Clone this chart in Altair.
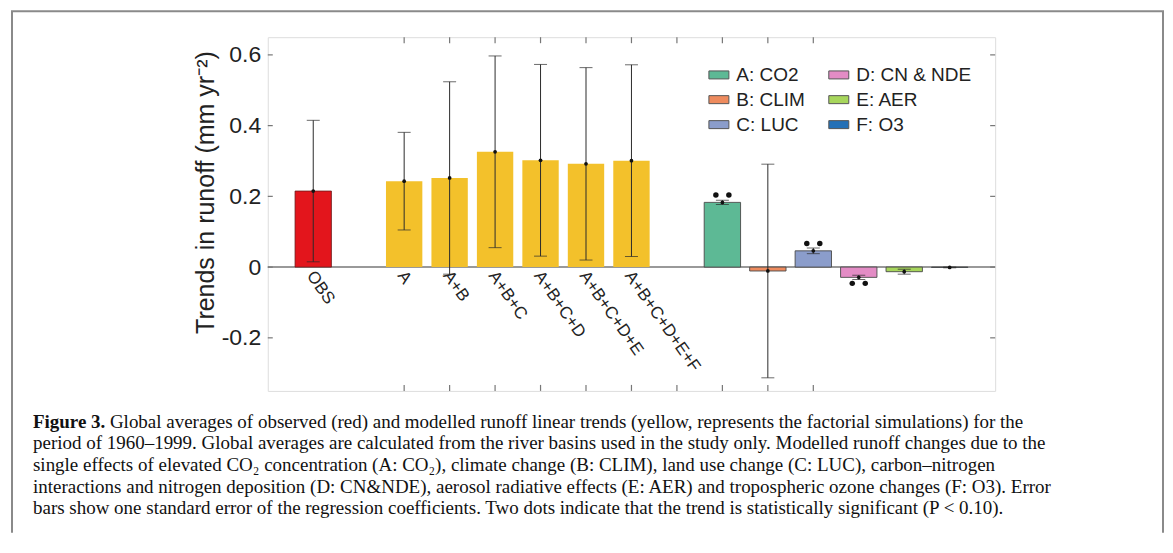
import altair as alt
import pandas as pd

# ---------------- data ----------------
sim_labels = ["OBS", "A", "A+B", "A+B+C", "A+B+C+D", "A+B+C+D+E", "A+B+C+D+E+F"]
sim_pos = [1, 3, 4, 5, 6, 7, 8]
sim_values = [0.215, 0.243, 0.252, 0.326, 0.302, 0.292, 0.301]
sim_errors = [0.200, 0.138, 0.272, 0.271, 0.271, 0.272, 0.271]

factor_names = ["A: CO2", "B: CLIM", "C: LUC", "D: CN & NDE", "E: AER", "F: O3"]
factor_pos = [10, 11, 12, 13, 14, 15]
factor_values = [0.183, -0.011, 0.046, -0.029, -0.013, -0.001]
factor_errors = [0.006, 0.302, 0.008, 0.006, 0.007, 0.001]

sig_names = ["A: CO2", "C: LUC", "D: CN & NDE"]
sig_pos = [10, 12, 13]
sig_dot_values = [0.204, 0.067, -0.046]

y_tick_values = [-0.2, 0, 0.2, 0.4, 0.6]
x_tick_values = [3, 4, 5, 6, 7, 8, 9, 10, 11, 12]

caption_bold = "Figure 3."
caption_first = "Global averages of observed (red) and modelled runoff linear trends (yellow, represents the factorial simulations) for the"
caption_rest = [
    "period of 1960\u20131999. Global averages are calculated from the river basins used in the study only. Modelled runoff changes due to the",
    "single effects of elevated CO\u2082 concentration (A: CO\u2082), climate change (B: CLIM), land use change (C: LUC), carbon\u2013nitrogen",
    "interactions and nitrogen deposition (D: CN&NDE), aerosol radiative effects (E: AER) and tropospheric ozone changes (F: O3). Error",
    "bars show one standard error of the regression coefficients. Two dots indicate that the trend is statistically significant (P < 0.10).",
]

# ---------------- styles ----------------
RED = "#E3151C"
YELLOW = "#F3C12B"
legend_colors = ["#5DB995", "#EE8B5E", "#8B9DCB", "#E38CC5", "#A7D65C", "#2470B6"]
SANS = "Liberation Sans, Arial, Helvetica, sans-serif"
SERIF = "Liberation Serif, Times New Roman, serif"
W, H = 728, 354
CAP_FS = 19

sim_df = pd.DataFrame({"label": sim_labels, "pos": sim_pos, "value": sim_values, "err": sim_errors})
fac_df = pd.DataFrame({"name": factor_names, "pos": factor_pos, "value": factor_values, "err": factor_errors})
sig_df = pd.DataFrame({"name": sig_names, "pos": sig_pos, "dot": sig_dot_values})
yt_df = pd.DataFrame({"v": y_tick_values})
xt_df = pd.DataFrame({"v": x_tick_values})
one = pd.DataFrame({"k": [0]})

xs = alt.Scale(domain=[0, 16], nice=False, zero=False)
ys = alt.Scale(domain=[-0.35, 0.65], nice=False, zero=False)

yaxis = alt.Axis(
    values=y_tick_values, ticks=False, domain=False, grid=False,
    labelFont=SANS, labelFontSize=23, labelColor="#222", labelPadding=7,
    labelExpr="datum.value == 0 ? '0' : (datum.value < 0 ? '-' + format(-datum.value, '.1f') : format(datum.value, '.1f'))",
    title="Trends in runoff (mm yr\u207b\u00b2)", titleFont=SANS, titleFontSize=25,
    titleFontWeight="normal", titleColor="#222", titleAngle=270,
    titleX=-62, titleY=155, titleAlign="center", titleBaseline="middle",
)

def X(field):
    return alt.X(field, type="quantitative", scale=xs, axis=None)

def Yq(field):
    return alt.Y(field, type="quantitative", scale=ys, axis=yaxis)

sim_base = alt.Chart(sim_df).transform_calculate(
    x1="datum.pos - 0.4", x2="datum.pos + 0.4",
    lo="datum.value - datum.err", hi="datum.value + datum.err")
fac_base = alt.Chart(fac_df).transform_calculate(
    x1="datum.pos - 0.4", x2="datum.pos + 0.4",
    lo="datum.value - datum.err", hi="datum.value + datum.err")

zero_line = alt.Chart(one).transform_calculate(z="0").mark_rule(color="#777777", strokeWidth=1.5).encode(
    y=Yq("z"), x=alt.value(0), x2=alt.value(W))

obs_bar = sim_base.transform_filter("datum.label == 'OBS'").mark_rect(
    color=RED, stroke="#6a1a1a", strokeWidth=0.8).encode(
    x=X("x1"), x2="x2:Q", y=Yq("value"), y2=alt.datum(0))
sim_bars = sim_base.transform_filter("datum.label != 'OBS'").mark_rect(
    color=YELLOW).encode(x=X("x1"), x2="x2:Q", y=Yq("value"), y2=alt.datum(0))

fac_bars = fac_base.mark_rect(stroke="#4a4a4a", strokeWidth=0.9).encode(
    x=X("x1"), x2="x2:Q", y=Yq("value"), y2=alt.datum(0),
    color=alt.Color("name:N", scale=alt.Scale(domain=factor_names, range=legend_colors),
                    legend=alt.Legend(
                        orient="none", legendX=441, legendY=27, columns=2, title=None,
                        symbolType="M-1,-0.4L1,-0.4L1,0.4L-1,0.4Z", symbolSize=400,
                        symbolStrokeColor="#555555", symbolStrokeWidth=1,
                        labelFont=SANS, labelFontSize=19, labelColor="#222",
                        labelOffset=7, rowPadding=4, columnPadding=21, padding=0)),
)

def err_layers(base):
    ec = "#2b2b2b"
    stem = base.mark_rule(color=ec, strokeWidth=1).encode(x=X("pos"), y=Yq("lo"), y2="hi:Q")
    cap_hi = base.mark_tick(color=ec, orient="horizontal", size=13, thickness=1).encode(x=X("pos"), y=Yq("hi"))
    cap_lo = base.mark_tick(color=ec, orient="horizontal", size=13, thickness=1).encode(x=X("pos"), y=Yq("lo"))
    mean = base.mark_circle(color="#111", size=14, opacity=1).encode(x=X("pos"), y=Yq("value"))
    return [stem, cap_hi, cap_lo, mean]

sig_l = alt.Chart(sig_df).mark_circle(color="#111", size=30, opacity=1, xOffset=-6.5).encode(x=X("pos"), y=Yq("dot"))
sig_r = alt.Chart(sig_df).mark_circle(color="#111", size=30, opacity=1, xOffset=6.5).encode(x=X("pos"), y=Yq("dot"))

# inward ticks around the frame
tcol = "#777777"
lt = alt.Chart(yt_df).mark_rule(color=tcol, strokeWidth=1.2).encode(y=Yq("v"), x=alt.value(0), x2=alt.value(5))
rt = alt.Chart(yt_df).mark_rule(color=tcol, strokeWidth=1.2).encode(y=Yq("v"), x=alt.value(W), x2=alt.value(W - 5))
tt = alt.Chart(xt_df).mark_rule(color=tcol, strokeWidth=1.2).encode(x=X("v"), y=alt.value(0), y2=alt.value(6))
bt = alt.Chart(xt_df).mark_rule(color=tcol, strokeWidth=1.2).encode(x=X("v"), y=alt.value(H), y2=alt.value(H - 6))

# rotated category labels
xlabels = alt.Chart(sim_df).mark_text(
    align="left", baseline="middle", angle=55, font=SANS, fontSize=17, color="#222", xOffset=-3
).encode(x=X("pos"), y=alt.value(236), text="label:N")

# caption + figure box
cap_b = alt.Chart(one).mark_text(align="left", baseline="middle", font=SERIF, fontSize=CAP_FS,
                                 fontWeight="bold", color="#111").encode(
    x=alt.value(-235), y=alt.value(385), text=alt.value(caption_bold))
cap_1 = alt.Chart(one).mark_text(align="left", baseline="middle", font=SERIF, fontSize=CAP_FS,
                                 color="#111").encode(
    x=alt.value(-158), y=alt.value(385), text=alt.value(caption_first))
cap_r = alt.Chart(one).mark_text(align="left", baseline="middle", font=SERIF, fontSize=CAP_FS,
                                 color="#111", lineBreak="\n", lineHeight=21.6).encode(
    x=alt.value(-235), y=alt.value(406.6), text=alt.value("\n".join(caption_rest)))

bc = "#8a8a8a"
box_l = alt.Chart(one).mark_rule(color=bc, strokeWidth=2).encode(x=alt.value(-256), y=alt.value(-26), y2=alt.value(496))
box_r = alt.Chart(one).mark_rule(color=bc, strokeWidth=2).encode(x=alt.value(896), y=alt.value(-26), y2=alt.value(496))
box_t = alt.Chart(one).mark_rule(color=bc, strokeWidth=2).encode(y=alt.value(-26), x=alt.value(-257), x2=alt.value(897))

layers = [zero_line, obs_bar, sim_bars, fac_bars] + err_layers(sim_base) + err_layers(fac_base) + \
    [sig_l, sig_r, lt, rt, tt, bt, xlabels, cap_b, cap_1, cap_r, box_l, box_r, box_t]

chart = alt.layer(*layers).properties(
    width=W, height=H, padding={"left": 2, "top": 2, "right": 0, "bottom": 0}
).configure_view(stroke="#777777", strokeWidth=1.5).configure(background="white")

chart.save("out.html", embed_options={"renderer": "svg", "actions": False})
